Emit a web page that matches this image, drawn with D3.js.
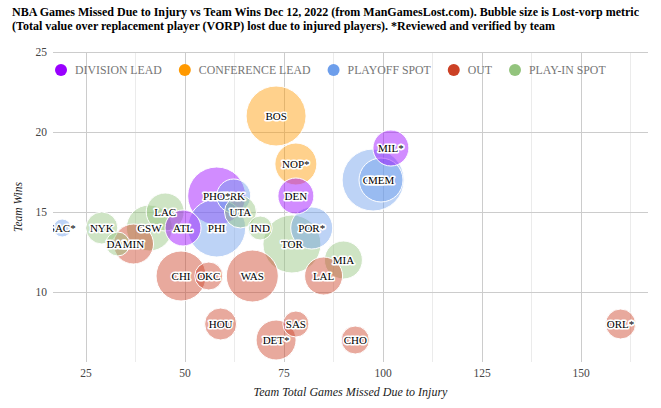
<!DOCTYPE html>
<html><head><meta charset="utf-8">
<script src="https://cdn.jsdelivr.net/npm/d3@7"></script>
<style>body{margin:0;background:#fff} svg{display:block} text{font-family:"Liberation Serif","DejaVu Serif",serif}</style>
</head><body>
<svg id="c" width="661" height="408"></svg>
<script>
const teams = ["BOS","MIL*","CLE","MEM","NOP*","DEN","BRK","PHO*","UTA","LAC","SAC*","NYK","GSW","ATL","PHI","IND","POR*","DAL","MIN","TOR","MIA","CHI","OKC","WAS","LAL","HOU","DET*","SAS","CHO","ORL*"];
const gamesMissed = [73,102,97.5,99.5,78,78,62.3,58,64,45,19,29,41,49.5,58,69,82,33,37,77,90,49,56,67,85,59,73,78,93,160];
const wins = [21,19,17,17,18,16,16,16,15,15,14,14,14,14,14,14,14,13,13,13,12,11,11,11,11,8,7,8,7,8];
const lostVorp = [3.0,1.8,3.1,2.2,2.1,1.8,1.7,2.9,1.6,1.9,0.9,1.6,2.3,1.8,2.9,1.2,2.1,1.2,2.0,2.9,1.9,2.5,1.4,2.6,1.9,1.6,2.0,1.3,1.4,1.5];
const status = ["CONFERENCE LEAD","DIVISION LEAD","PLAYOFF SPOT","PLAYOFF SPOT","CONFERENCE LEAD","DIVISION LEAD","PLAYOFF SPOT","DIVISION LEAD","PLAY-IN SPOT","PLAY-IN SPOT","PLAYOFF SPOT","PLAY-IN SPOT","PLAY-IN SPOT","DIVISION LEAD","PLAYOFF SPOT","PLAY-IN SPOT","PLAYOFF SPOT","PLAY-IN SPOT","OUT","PLAY-IN SPOT","PLAY-IN SPOT","OUT","OUT","OUT","OUT","OUT","OUT","OUT","OUT","OUT"];
const categories = ["DIVISION LEAD","CONFERENCE LEAD","PLAYOFF SPOT","OUT","PLAY-IN SPOT"];
const catColors = ["#9900ff","#ff9900","#6d9eeb","#cc4125","#93c47d"];
const xTicks = [25,50,75,100,125,150];
const xMinorTicks = [12.5,37.5,62.5,87.5,112.5,137.5,162.5];
const yTicks = [10,15,20,25];
const titleLines = ["NBA Games Missed Due to Injury vs Team Wins Dec 12, 2022 (from ManGamesLost.com). Bubble size is Lost-vorp metric",
  "(Total value over replacement player (VORP) lost due to injured players). *Reviewed and verified by team"];
const xTitle = "Team Total Games Missed Due to Injury";
const yTitle = "Team Wins";

const data = teams.map((t,i)=>({team:t,x:gamesMissed[i],y:wins[i],v:lostVorp[i],s:status[i],i}));
const svg = d3.select("#c");
const L=53, R=648, T=52, B=362;
const x = d3.scaleLinear().domain([25 - 33/3.96, 25 + (R-86)/3.96]).range([L,R]);
const y = d3.scaleLinear().domain([25 - (B-52)/16, 25]).range([B,T]);
const r = d3.scaleLinear().domain([0,3.1]).range([0,31]);
const color = d3.scaleOrdinal().domain(categories).range(catColors);

svg.append("defs").append("clipPath").attr("id","clip").append("rect")
  .attr("x",L).attr("y",T).attr("width",R-L).attr("height",B-T);

// title
svg.append("g").selectAll("text").data(titleLines).join("text")
  .attr("x",12).attr("y",(d,i)=>16+i*14)
  .attr("font-weight","bold").attr("font-size",12).attr("fill","#000")
  .text(d=>d);

// grid
const g = svg.append("g");
g.selectAll(".minor").data(xMinorTicks.filter(v=>x(v)>=L&&x(v)<=R)).join("line")
  .attr("x1",d=>x(d)).attr("x2",d=>x(d)).attr("y1",T).attr("y2",B)
  .attr("stroke","#ebebeb").attr("stroke-width",1).attr("shape-rendering","crispEdges");
g.selectAll(".major").data(xTicks).join("line")
  .attr("x1",d=>x(d)).attr("x2",d=>x(d)).attr("y1",T).attr("y2",B)
  .attr("stroke","#cccccc").attr("stroke-width",1).attr("shape-rendering","crispEdges");
g.selectAll(".hy").data(yTicks).join("line")
  .attr("x1",L).attr("x2",R).attr("y1",d=>y(d)).attr("y2",d=>y(d))
  .attr("stroke","#cccccc").attr("stroke-width",1).attr("shape-rendering","crispEdges");

// axes labels
svg.append("g").selectAll("text").data(xTicks).join("text")
  .attr("x",d=>x(d)).attr("y",B+15).attr("text-anchor","middle")
  .attr("font-size",11.5).attr("fill","#444").text(d=>d);
svg.append("g").selectAll("text").data(yTicks).join("text")
  .attr("x",47).attr("y",d=>y(d)+4).attr("text-anchor","end")
  .attr("font-size",11.5).attr("fill","#444").text(d=>d);
svg.append("text").attr("x",(L+R)/2).attr("y",396).attr("text-anchor","middle")
  .attr("font-style","italic").attr("font-size",12).attr("fill","#222").text(xTitle);
svg.append("text").attr("transform","translate(22,"+((T+B)/2)+") rotate(-90)").attr("text-anchor","middle")
  .attr("font-style","italic").attr("font-size",11.5).attr("fill","#222").text(yTitle);

// legend
const lg = svg.append("g");
let lx = 61;
categories.forEach((c,i)=>{
  lg.append("circle").attr("cx",lx).attr("cy",70).attr("r",6).attr("fill",catColors[i]);
  const t = lg.append("text").attr("x",lx+14).attr("y",74).attr("font-size",11.8)
    .attr("fill","#757575").text(c);
  lx = lx + 14 + t.node().getComputedTextLength() + 23;
});

// bubbles
const pg = svg.append("g").attr("clip-path","url(#clip)");
const sorted = data.slice().sort((a,b)=>b.v-a.v);
pg.selectAll("circle").data(sorted).join("circle")
  .attr("cx",d=>x(d.x)).attr("cy",d=>y(d.y)).attr("r",d=>r(d.v))
  .attr("fill",d=>color(d.s)).attr("fill-opacity",0.45)
  .attr("stroke","#fff").attr("stroke-width",1);
pg.selectAll("text").data(data).join("text")
  .attr("x",d=>x(d.x)).attr("y",d=>y(d.y)+4).attr("text-anchor","middle")
  .attr("font-size",11)
  .attr("fill","#000").attr("stroke","#fff").attr("stroke-width",3).attr("stroke-linejoin","round")
  .attr("paint-order","stroke").text(d=>d.team);
</script>
</body></html>
